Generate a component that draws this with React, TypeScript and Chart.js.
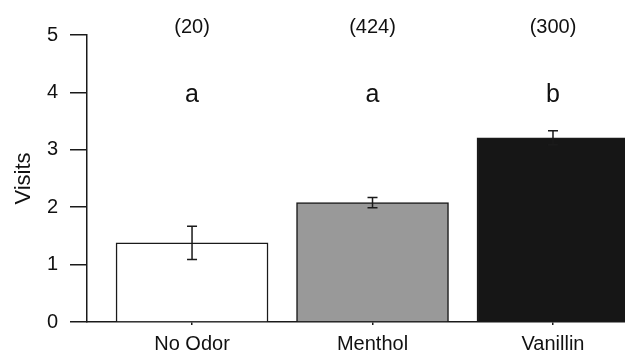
import React, { useEffect, useRef } from "react";
import { Chart, registerables } from "chart.js";

Chart.register(...registerables);

const categories = ["No Odor", "Menthol", "Vanillin"];
const positions = [1, 2, 3];
const means = [1.38, 2.08, 3.21];
const errors = [0.29, 0.09, 0.12];
const sampleSizes = ["(20)", "(424)", "(300)"];
const groupLetters = ["a", "a", "b"];
const barColors = ["#ffffff", "#999999", "#161616"];

const FONT = "'Liberation Sans', Arial, Helvetica, sans-serif";
const INK = "#111111";

const annotationPlugin = {
  id: "errorBarsAndLabels",
  afterDatasetsDraw(chart: any) {
    const { ctx, scales } = chart;
    const x = scales.x;
    const y = scales.y;
    ctx.save();
    ctx.strokeStyle = "#1a1a1a";
    ctx.lineWidth = 1.5;
    const cap = 5;
    means.forEach((m, i) => {
      const px = x.getPixelForValue(positions[i]);
      const top = y.getPixelForValue(m + errors[i]);
      const bot = y.getPixelForValue(m - errors[i]);
      ctx.beginPath();
      ctx.moveTo(px, top);
      ctx.lineTo(px, bot);
      ctx.moveTo(px - cap, top);
      ctx.lineTo(px + cap, top);
      ctx.moveTo(px - cap, bot);
      ctx.lineTo(px + cap, bot);
      ctx.stroke();
    });
    ctx.fillStyle = INK;
    ctx.textAlign = "center";
    ctx.textBaseline = "alphabetic";
    positions.forEach((p, i) => {
      const px = x.getPixelForValue(p);
      ctx.font = `20px ${FONT}`;
      ctx.fillText(sampleSizes[i], px, y.getPixelForValue(5.03));
      ctx.font = `25px ${FONT}`;
      ctx.fillText(groupLetters[i], px, y.getPixelForValue(3.84));
    });
    ctx.restore();
  },
};

export default function App() {
  const ref = useRef<HTMLCanvasElement | null>(null);

  useEffect(() => {
    if (!ref.current) return;
    const chart = new Chart(ref.current, {
      type: "bar",
      data: {
        datasets: [
          {
            data: positions.map((p, i) => ({ x: p, y: means[i] })),
            backgroundColor: barColors,
            borderColor: "#1a1a1a",
            borderWidth: 1.5,
            barThickness: 152,
          },
        ],
      },
      options: {
        animation: false,
        responsive: false,
        maintainAspectRatio: false,
        layout: { padding: { top: 35, right: 0, bottom: 0, left: 0 } },
        plugins: {
          legend: { display: false },
          tooltip: { enabled: false },
        },
        scales: {
          x: {
            type: "linear",
            offset: false,
            min: 0.418,
            max: 3.399,
            afterBuildTicks: (s: any) => {
              s.ticks = positions.map((v) => ({ value: v }));
            },
            afterFit: (s: any) => {
              s.height = 32;
            },
            ticks: {
              callback: (v: any) => {
                const idx = positions.indexOf(Number(v));
                return idx >= 0 ? categories[idx] : "";
              },
              font: { family: FONT, size: 20 },
              color: INK,
              padding: 7,
              maxRotation: 0,
              autoSkip: false,
            },
            grid: { offset: false, drawOnChartArea: false, tickLength: 3, color: "#1a1a1a", lineWidth: 1.5 },
            border: { color: "#1a1a1a", width: 1.5 },
          },
          y: {
            min: 0,
            max: 5,
            afterFit: (s: any) => {
              s.width = 87;
            },
            ticks: {
              stepSize: 1,
              font: { family: FONT, size: 20 },
              color: INK,
              padding: 12,
            },
            title: {
              display: true,
              text: "Visits",
              font: { family: FONT, size: 22 },
              color: INK,
              padding: { top: 11, bottom: 0 },
            },
            grid: { drawOnChartArea: false, tickLength: 17, color: "#1a1a1a", lineWidth: 1.5 },
            border: { color: "#1a1a1a", width: 1.5 },
          },
        },
      },
      plugins: [annotationPlugin],
    });
    return () => chart.destroy();
  }, []);

  return (
    <div style={{ position: "fixed", left: 0, top: 0, width: 625, height: 354, background: "#fff" }}>
      <canvas ref={ref} width={625} height={354} style={{ width: 625, height: 354 }} />
    </div>
  );
}
